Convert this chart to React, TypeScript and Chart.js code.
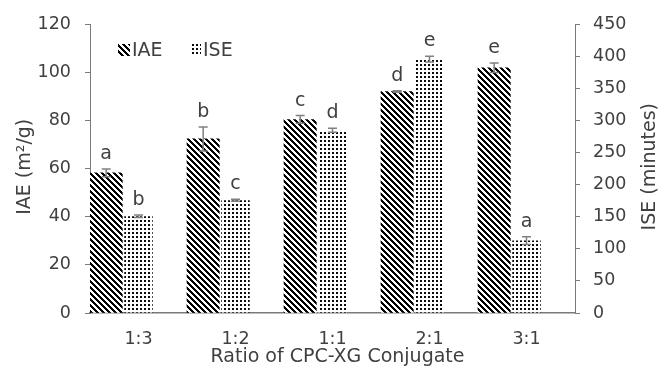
import React, { useEffect, useRef } from "react";
import { Chart, registerables } from "chart.js";

Chart.register(...registerables);

const categories = ["1:3", "1:2", "1:1", "2:1", "3:1"];
const seriesNames = ["IAE", "ISE"];
const iaeValues = [58.3, 72.4, 80.5, 92.1, 102.0];
const iaeErrors = [1.6, 5.0, 1.6, 0.3, 2.0];
const iaeLetters = ["a", "b", "c", "d", "e"];
const iseValues = [151, 176, 285, 396, 113];
const iseErrors = [2, 1.5, 3, 4.5, 6];
const iseLetters = ["b", "c", "d", "e", "a"];
const leftTitle = "IAE (m\u00B2/g)";
const rightTitle = "ISE (minutes)";
const xTitle = "Ratio of CPC-XG Conjugate";

const FONT = "'DejaVu Sans', Verdana, sans-serif";
const TEXT = "#404040";
const AXIS = "#7a7a7a";

function makePattern(kind: "stripe" | "dot"): CanvasPattern | string {
  const c = document.createElement("canvas");
  const p = kind === "stripe" ? 6 : 4;
  c.width = p;
  c.height = p;
  const g = c.getContext("2d");
  if (!g) return "#000";
  const img = g.createImageData(p, p);
  for (let y = 0; y < p; y++) {
    for (let x = 0; x < p; x++) {
      let v = 255;
      if (kind === "stripe") {
        const k = (((x - y) % p) + p) % p;
        if (k < 3) v = 0;
      } else {
        if (x < 2 && y < 2) v = 10;
      }
      const i = (y * p + x) * 4;
      img.data[i] = v;
      img.data[i + 1] = v;
      img.data[i + 2] = v;
      img.data[i + 3] = 255;
    }
  }
  g.putImageData(img, 0, 0);
  const pat = g.createPattern(c, "repeat");
  return pat || "#000";
}

export default function App() {
  const ref = useRef<HTMLCanvasElement | null>(null);

  useEffect(() => {
    document.body.style.margin = "0";
    const canvas = ref.current;
    if (!canvas) return;
    const ctx0 = canvas.getContext("2d");
    if (!ctx0) return;
    const stripe = makePattern("stripe");
    const dots = makePattern("dot");
    const errs = [iaeErrors, iseErrors];
    const letters = [iaeLetters, iseLetters];

    const overlay = {
      id: "overlay",
      afterDatasetsDraw(chart: any) {
        const ctx = chart.ctx;
        ctx.save();
        for (let d = 0; d < 2; d++) {
          const meta = chart.getDatasetMeta(d);
          const ds = chart.data.datasets[d];
          const ys = chart.scales[ds.yAxisID];
          meta.data.forEach((bar: any, i: number) => {
            const v = ds.data[i];
            const e = errs[d][i];
            const top = ys.getPixelForValue(v + e);
            const bot = ys.getPixelForValue(v - e);
            const x = bar.x;
            ctx.strokeStyle = "#808080";
            ctx.lineWidth = 1.5;
            ctx.beginPath();
            ctx.moveTo(x, top);
            ctx.lineTo(x, bot);
            ctx.moveTo(x - 4.5, top);
            ctx.lineTo(x + 4.5, top);
            ctx.moveTo(x - 4.5, bot);
            ctx.lineTo(x + 4.5, bot);
            ctx.stroke();
            ctx.fillStyle = TEXT;
            ctx.font = `19px ${FONT}`;
            ctx.textAlign = "center";
            ctx.textBaseline = "alphabetic";
            ctx.fillText(letters[d][i], x, top - 10);
          });
        }
        ctx.restore();
      },
      afterDraw(chart: any) {
        const ctx = chart.ctx;
        const area = chart.chartArea;
        ctx.save();
        ctx.fillStyle = TEXT;
        ctx.font = `19px ${FONT}`;
        ctx.textAlign = "center";
        ctx.textBaseline = "middle";
        const cy = (area.top + area.bottom) / 2 - 2;
        ctx.save();
        ctx.translate(25, cy);
        ctx.rotate(-Math.PI / 2);
        ctx.fillText(leftTitle, 0, 0);
        ctx.restore();
        ctx.save();
        ctx.translate(650, cy);
        ctx.rotate(-Math.PI / 2);
        ctx.fillText(rightTitle, 0, 0);
        ctx.restore();
        ctx.fillText(xTitle, (area.left + area.right) / 2 + 5, 357);
        const ly = 50;
        const items = [
          { x: 118, w: 12, fill: stripe, label: seriesNames[0] },
          { x: 190, w: 11, fill: dots, label: seriesNames[1] },
        ];
        items.forEach((it) => {
          ctx.fillStyle = it.fill as any;
          ctx.fillRect(it.x, ly - 6, it.w, 12);
          ctx.fillStyle = TEXT;
          ctx.textAlign = "left";
          ctx.fillText(it.label, it.x + it.w + 2, ly + 1);
        });
        ctx.restore();
      },
    };

    const tickFont = { family: FONT, size: 17.5 };

    const chart = new Chart(ctx0, {
      type: "bar",
      data: {
        labels: categories,
        datasets: [
          {
            label: seriesNames[0],
            data: iaeValues,
            backgroundColor: stripe as any,
            yAxisID: "y",
            categoryPercentage: 1,
            barPercentage: 1,
          },
          {
            label: seriesNames[1],
            data: iseValues,
            backgroundColor: dots as any,
            yAxisID: "y1",
            categoryPercentage: 1,
            barPercentage: 0.88,
          },
          {
            label: "",
            data: categories.map(() => null),
            backgroundColor: "rgba(0,0,0,0)",
            yAxisID: "y",
            categoryPercentage: 1,
            barPercentage: 1,
          },
        ],
      },
      options: {
        responsive: false,
        animation: false,
        layout: { padding: { top: 21, left: 0, right: 0, bottom: 0 } },
        plugins: {
          legend: { display: false },
          tooltip: { enabled: false },
        },
        scales: {
          x: {
            grid: { display: false, drawTicks: false },
            border: { display: true, color: AXIS, width: 1.5 },
            ticks: { color: TEXT, font: tickFont, padding: 16 },
            afterFit(scale: any) {
              scale.height = 56;
            },
          },
          y: {
            position: "left",
            min: 0,
            max: 120,
            ticks: { stepSize: 20, color: TEXT, font: tickFont, padding: 14 },
            grid: { drawOnChartArea: false, drawTicks: true, tickLength: 5, color: AXIS },
            border: { display: true, color: AXIS, width: 1 },
            afterFit(scale: any) {
              scale.width = 90;
            },
          },
          y1: {
            position: "right",
            min: 0,
            max: 450,
            ticks: { stepSize: 50, color: TEXT, font: tickFont, padding: 13 },
            grid: { drawOnChartArea: false, drawTicks: true, tickLength: 5, color: AXIS },
            border: { display: true, color: AXIS, width: 1 },
            afterFit(scale: any) {
              scale.width = 87;
            },
          },
        },
      },
      plugins: [overlay],
    });

    return () => {
      chart.destroy();
    };
  }, []);

  return (
    <div style={{ width: 662, height: 369 }}>
      <canvas ref={ref} width={662} height={369} style={{ display: "block" }} />
    </div>
  );
}
